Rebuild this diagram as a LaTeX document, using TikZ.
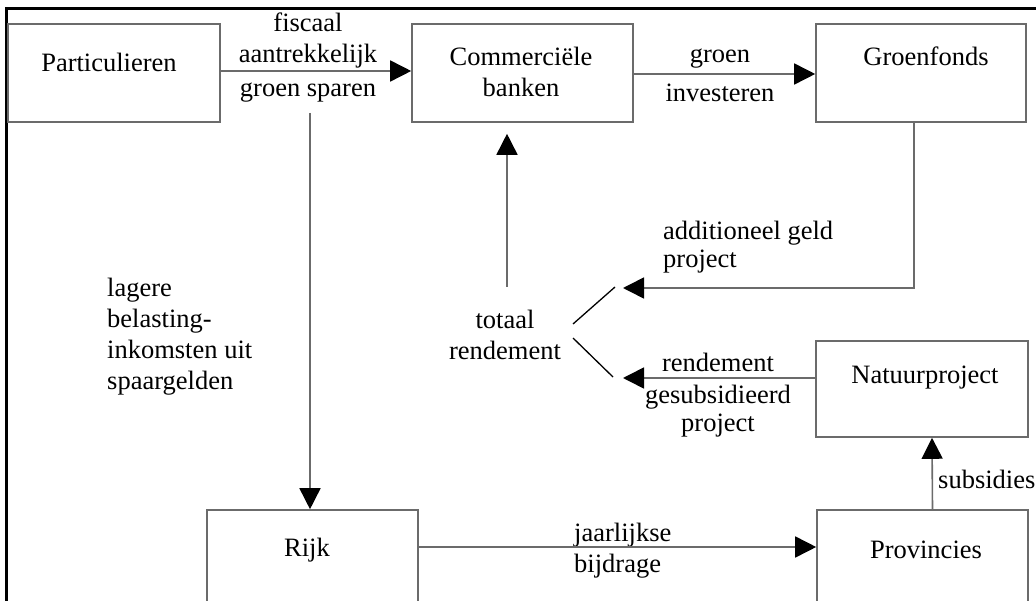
\documentclass[tikz,border=0pt]{standalone}
\usepackage{fontspec}
\setmainfont{Liberation Serif}
\usetikzlibrary{arrows.meta}
% a block of lines whose baseline is the baseline of its first line
\newcommand{\txtlines}[2]{\begin{tabular}[t]{@{}#1@{}}#2\end{tabular}}
\begin{document}
\begin{tikzpicture}[x=1pt,y=-1pt,
  box/.style={draw=black!58, line width=1.6pt, rectangle, inner sep=0pt},
  txt/.style={font=\fontsize{26.5}{31}\selectfont, inner sep=0pt, anchor=base},
  conn/.style={draw=black!58, line width=1.6pt},
  tip/.style={-{Triangle[length=21pt,width=21pt,color=black]}},
  tick/.style={draw=black, line width=1.3pt}
]
\useasboundingbox (0,0) rectangle (1036,601);
\fill[white] (0,0) rectangle (1036,601);
\clip (0,0) rectangle (1036,601);

% outer frame (top and left edges)
\draw[line width=3pt] (6.5,640) -- (6.5,8.5) -- (1080,8.5);

% boxes
\node[box, minimum width=212pt, minimum height=98pt] (part) at (114,73) {};
\node[box, minimum width=221pt, minimum height=98pt] (com) at (522.5,73) {};
\node[box, minimum width=210pt, minimum height=98pt] (grf) at (921,73) {};
\node[box, minimum width=212pt, minimum height=96pt] (nat) at (922,389) {};
\node[box, minimum width=211pt, minimum height=100pt] (rijk) at (312.5,560) {};
\node[box, minimum width=211pt, minimum height=100pt] (prov) at (922.5,560) {};

% box titles
\node[txt] (part-t) at (109,72) {Particulieren};
\node[txt] (com-t) at (521,66) {\txtlines{c}{Commerciële\\banken}};
\node[txt] (grf-t) at (926,66) {Groenfonds};
\node[txt] (nat-t) at (925,384) {Natuurproject};
\node[txt] (rijk-t) at (307,556) {Rijk};
\node[txt] (prov-t) at (926,558) {Provincies};

% flow labels
\node[txt] (l-sparen) at (308,32) {\txtlines{c}{fiscaal\\aantrekkelijk\\[3pt]groen sparen}};
\node[txt] (l-invest) at (720,63) {\txtlines{c}{groen\\[8pt]investeren}};
\node[txt, anchor=base west] (l-belast) at (107,297)
  {\txtlines{l}{lagere\\belasting-\\inkomsten uit\\spaargelden}};
\node[txt] (tot) at (505,329) {\txtlines{c}{totaal\\rendement}};
\node[txt, anchor=base west] (l-add) at (663,240) {\txtlines{l}{additioneel geld\\[-3pt]project}};
\node[txt] (l-rend) at (718,372) {\txtlines{c}{rendement\\[1pt]gesubsidieerd\\[-3pt]project}};
\node[txt, anchor=base west] (l-jaar) at (574,541) {\txtlines{l}{jaarlijkse\\bijdrage}};
\node[txt, anchor=base west] (l-sub) at (938,488) {subsidies};

% free ends of connectors
\coordinate (gs-foot) at (310,113);
\coordinate (tot-up) at (507,287);
\coordinate (add-in) at (623,288);
\coordinate (rend-in) at (623,378);
\coordinate (fork-a1) at (573,324);
\coordinate (fork-a2) at (615,287);
\coordinate (fork-b1) at (573,338);
\coordinate (fork-b2) at (613,377);

% connectors
\draw[conn, tip] ([yshift=2pt]part.east) -- ([yshift=2pt]com.west);
\draw[conn, tip] ([yshift=-1pt]com.east) -- ([yshift=-1pt]grf.west);
\draw[conn, tip] (gs-foot) -- (gs-foot |- rijk.north);
\draw[conn, tip, shorten >=11pt] (tot-up) -- (tot-up |- com.south);
\draw[conn, tip] ([xshift=-7pt]grf.south) |- (add-in);
\draw[conn, tip] ([yshift=11pt]nat.west) -- (rend-in);
\draw[conn, tip] ([xshift=10pt]prov.north) -- ([xshift=10pt]nat.south);
\draw[conn, tip] ([yshift=13pt]rijk.east) -- ([yshift=13pt]prov.west);

% the fork beside "totaal rendement"
\draw[tick] (fork-a1) -- (fork-a2);
\draw[tick] (fork-b1) -- (fork-b2);
\end{tikzpicture}
\end{document}
